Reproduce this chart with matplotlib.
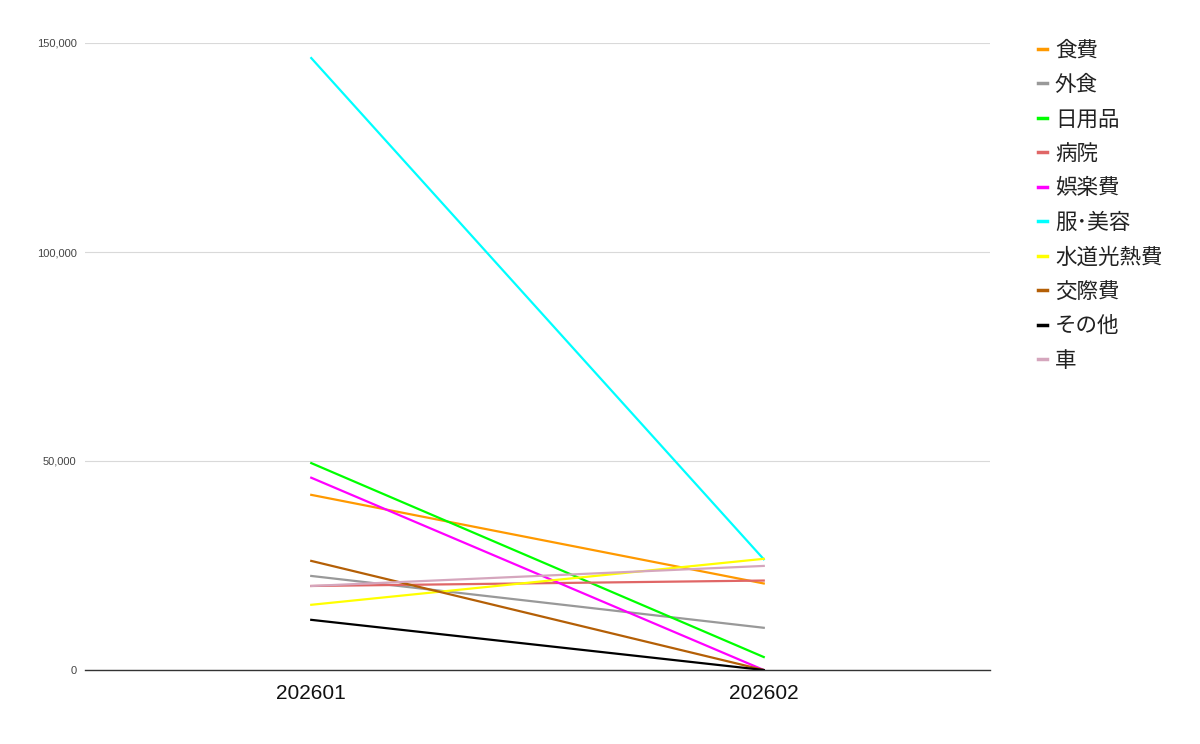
import matplotlib.pyplot as plt
from matplotlib.ticker import FuncFormatter

plt.rcParams['font.family'] = ['Noto Sans CJK JP', 'DejaVu Sans']

# 月ごとの支出
months = ['202601', '202602']
categories = ['食費', '外食', '日用品', '病院', '娯楽費', '服･美容', '水道光熱費', '交際費', 'その他', '車']
shokuhi = [41900, 20700]
gaishoku = [22500, 10100]
nichiyouhin = [49500, 3100]
byouin = [20100, 21400]
goraku = [46000, 0]
fuku_biyou = [146400, 26500]
suidou = [15600, 26600]
kousai = [26100, 0]
sonota = [12000, 0]
kuruma = [20100, 24900]
colors = ['#ff9900', '#999999', '#00ff00', '#e06666', '#ff00ff',
          '#00ffff', '#ffff00', '#b45f06', '#000000', '#d5a6bd']

series = [shokuhi, gaishoku, nichiyouhin, byouin, goraku,
          fuku_biyou, suidou, kousai, sonota, kuruma]

fig = plt.figure(figsize=(12, 7.44), dpi=100)
ax = fig.add_axes([85/1200, 1-670/744, (990-85)/1200, (670-43)/744])

x = list(range(len(months)))
for name, vals, c in zip(categories, series, colors):
    ax.plot(x, vals, color=c, linewidth=1.6, label=name)

ax.set_xlim(-0.5, 1.5)
ax.set_ylim(0, 150000)
ax.set_yticks([0, 50000, 100000, 150000])
ax.yaxis.set_major_formatter(FuncFormatter(lambda v, p: f'{int(v):,}'))
ax.set_xticks(x)
ax.set_xticklabels(months, fontsize=15, color='#111111', family='Liberation Sans')
for t in ax.get_yticklabels():
    t.set_family('Liberation Sans')
ax.tick_params(axis='y', labelsize=8, colors='#444444', length=0, pad=6)
ax.tick_params(axis='x', length=0, pad=10)
ax.grid(axis='y', color='#d9d9d9', linewidth=0.8)
ax.set_axisbelow(True)
for s in ['top', 'right', 'left']:
    ax.spines[s].set_visible(False)
ax.spines['bottom'].set_color('#333333')
ax.spines['bottom'].set_linewidth(1.0)

leg = fig.legend(loc='upper left', bbox_to_anchor=(1019/1200, 1-20/744),
                 frameon=False, fontsize=15.5, handlelength=0.42,
                 handletextpad=0.35, labelspacing=0.58)
for t in leg.get_texts():
    t.set_color('#222222')
for h in leg.get_lines():
    h.set_linewidth(2.5)

fig.savefig('out.png', dpi=100)
